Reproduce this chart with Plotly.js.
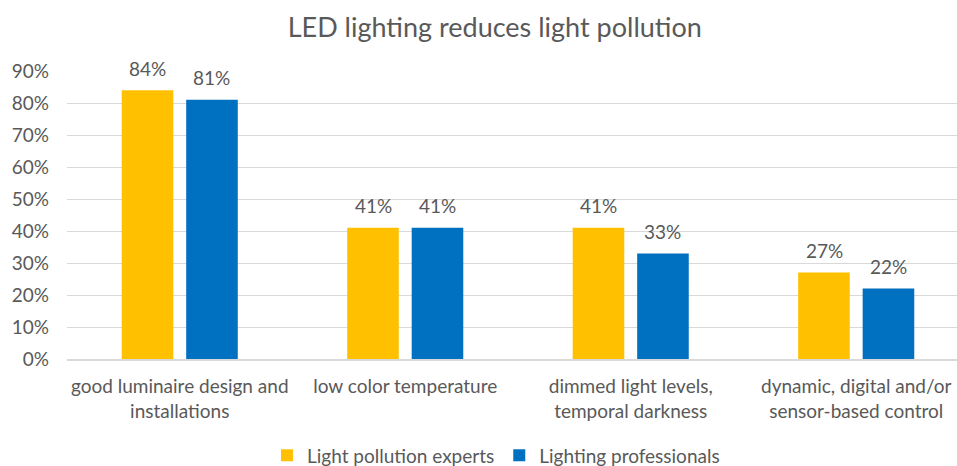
<!DOCTYPE html>
<html>
<head>
<meta charset="utf-8">
<script src="https://cdn.plot.ly/plotly-3.0.1.min.js"></script>
<style>
  html, body { margin: 0; padding: 0; background: #ffffff; }
  #chart { width: 957px; height: 466px; }
</style>
</head>
<body>
<div id="chart"></div>
<script>
// Survey answers: how LED lighting reduces light pollution
const categories = [
  "good luminaire design and<br>installations",
  "low color temperature",
  "dimmed light levels,<br>temporal darkness",
  "dynamic, digital and/or<br>sensor-based control"
];
const expertsValues = [84, 41, 41, 27];
const professionalsValues = [81, 41, 33, 22];
const seriesNames = ["Light pollution experts", "Lighting professionals"];
const yTickValues = [0, 10, 20, 30, 40, 50, 60, 70, 80, 90];

const grey = "#595959";
const fontFamily = "Lato, 'Open Sans', sans-serif";
const textSize = 19;

const traces = [
  {
    type: "bar",
    name: seriesNames[0],
    x: categories,
    y: expertsValues,
    marker: { color: "#FFC000" },
    hoverinfo: "skip"
  },
  {
    type: "bar",
    name: seriesNames[1],
    x: categories,
    y: professionalsValues,
    marker: { color: "#0070C0" },
    hoverinfo: "skip"
  }
];

// Value labels sit a little above each bar, shifted onto their bar within the group
const barOffsetPx = 32;
const valueLabels = [];
[expertsValues, professionalsValues].forEach((vals, s) => {
  vals.forEach((v, i) => {
    valueLabels.push({
      x: categories[i],
      y: v,
      xref: "x",
      yref: "y",
      text: v + "%",
      showarrow: false,
      xshift: s === 0 ? -barOffsetPx : barOffsetPx,
      yshift: 22,
      font: { size: textSize, color: grey, family: fontFamily }
    });
  });
});

const layout = {
  width: 957,
  height: 466,
  margin: { l: 67, r: 0, t: 71, b: 107, autoexpand: false },
  paper_bgcolor: "#ffffff",
  plot_bgcolor: "#ffffff",
  font: { family: fontFamily, color: grey, size: textSize },
  title: {
    text: "LED lighting reduces light pollution",
    font: { size: 27, color: grey, family: fontFamily },
    x: 0.517,
    xanchor: "center",
    y: 0.94,
    yanchor: "middle"
  },
  barmode: "group",
  bargap: 0.428,
  bargroupgap: 0.2,
  xaxis: {
    type: "category",
    range: [-0.5, 3.447],
    showgrid: false,
    showline: true,
    linecolor: "#d9d9d9",
    linewidth: 1.5,
    ticks: "",
    ticklabelstandoff: 10,
    tickfont: { size: textSize, color: grey, family: fontFamily },
    fixedrange: true
  },
  yaxis: {
    range: [0, 90],
    tickvals: yTickValues,
    ticktext: yTickValues.map(v => v + "%"),
    showgrid: true,
    gridcolor: "#d9d9d9",
    gridwidth: 1,
    zeroline: false,
    showline: false,
    ticks: "",
    ticklabelstandoff: 17,
    tickfont: { size: textSize, color: grey, family: fontFamily },
    fixedrange: true
  },
  legend: {
    orientation: "h",
    x: 0.482,
    xanchor: "center",
    y: -0.335,
    yanchor: "middle",
    font: { size: textSize, color: grey, family: fontFamily },
    itemwidth: 30,
    traceorder: "normal"
  },
  annotations: valueLabels,
  showlegend: true
};

Plotly.newPlot("chart", traces, layout, { displayModeBar: false, staticPlot: true });
</script>
</body>
</html>
